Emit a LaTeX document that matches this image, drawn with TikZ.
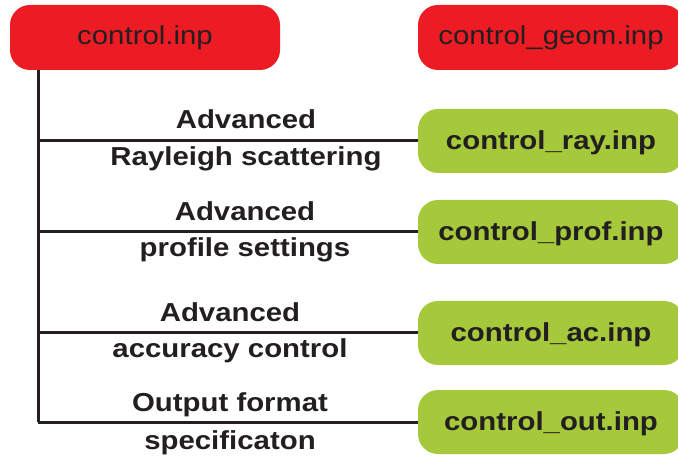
\documentclass[tikz,border=0pt]{standalone}
\usepackage{fontspec}
\setmainfont[FakeStretch=1.13]{Liberation Sans}
\definecolor{boxred}{HTML}{ED1C24}
\definecolor{boxgreen}{HTML}{A5C93A}
\definecolor{ink}{HTML}{231F20}
\begin{document}
\begin{tikzpicture}[x=1pt,y=-1pt,
  fileface/.style={rounded corners=20pt, minimum width=266pt, minimum height=65pt,
    inner sep=0pt, text=ink, font=\fontsize{26}{31}\selectfont},
  redbox/.style={fileface, fill=boxred, text height=15pt, text depth=0pt},
  greenbox/.style={fileface, fill=boxgreen, minimum height=64pt,
    text height=17pt, text depth=0pt, font=\fontsize{26}{31}\selectfont\bfseries},
  note/.style={anchor=base, inner sep=0pt, text=ink, font=\fontsize{26}{31}\selectfont\bfseries},
  wire/.style={line width=3pt, draw=ink}]
\useasboundingbox (0,0) rectangle (678,457);
\clip (0,0) rectangle (678,457);

% input files
\node[redbox, minimum width=270pt] (main) at (145,37.5) {control.inp};
\node[redbox] (geom) at (551,37.5) {control\_geom.inp};
\node[greenbox] (ray)  at (551,141) {control\_ray.inp};
\node[greenbox] (prof) at (551,232) {control\_prof.inp};
\node[greenbox] (ac)   at (551,333) {control\_ac.inp};
\node[greenbox] (out)  at (551,422) {control\_out.inp};

% trunk and branches
\coordinate (k0) at (38,70);
\coordinate (k1) at (38,141);
\coordinate (k2) at (38,232);
\coordinate (k3) at (38,333);
\coordinate (k4) at (38,422);
\draw[wire] (k0) -- (k4);
\draw[wire] (k1) -- (ray.west);
\draw[wire] (k2) -- (prof.west);
\draw[wire] (k3) -- (ac.west);
\draw[wire] (k4) -- (out.west);

% branch labels
\node[note] (r1a) at (246,129) {Advanced};
\node[note] (r1b) at (246,166) {Rayleigh scattering};
\node[note] (r2a) at (245,221) {Advanced};
\node[note] (r2b) at (245,257) {profile settings};
\node[note] (r3a) at (230,322) {Advanced};
\node[note] (r3b) at (230,358) {accuracy control};
\node[note] (r4a) at (230,411) {Output format};
\node[note] (r4b) at (230,449) {specificaton};
\end{tikzpicture}
\end{document}
